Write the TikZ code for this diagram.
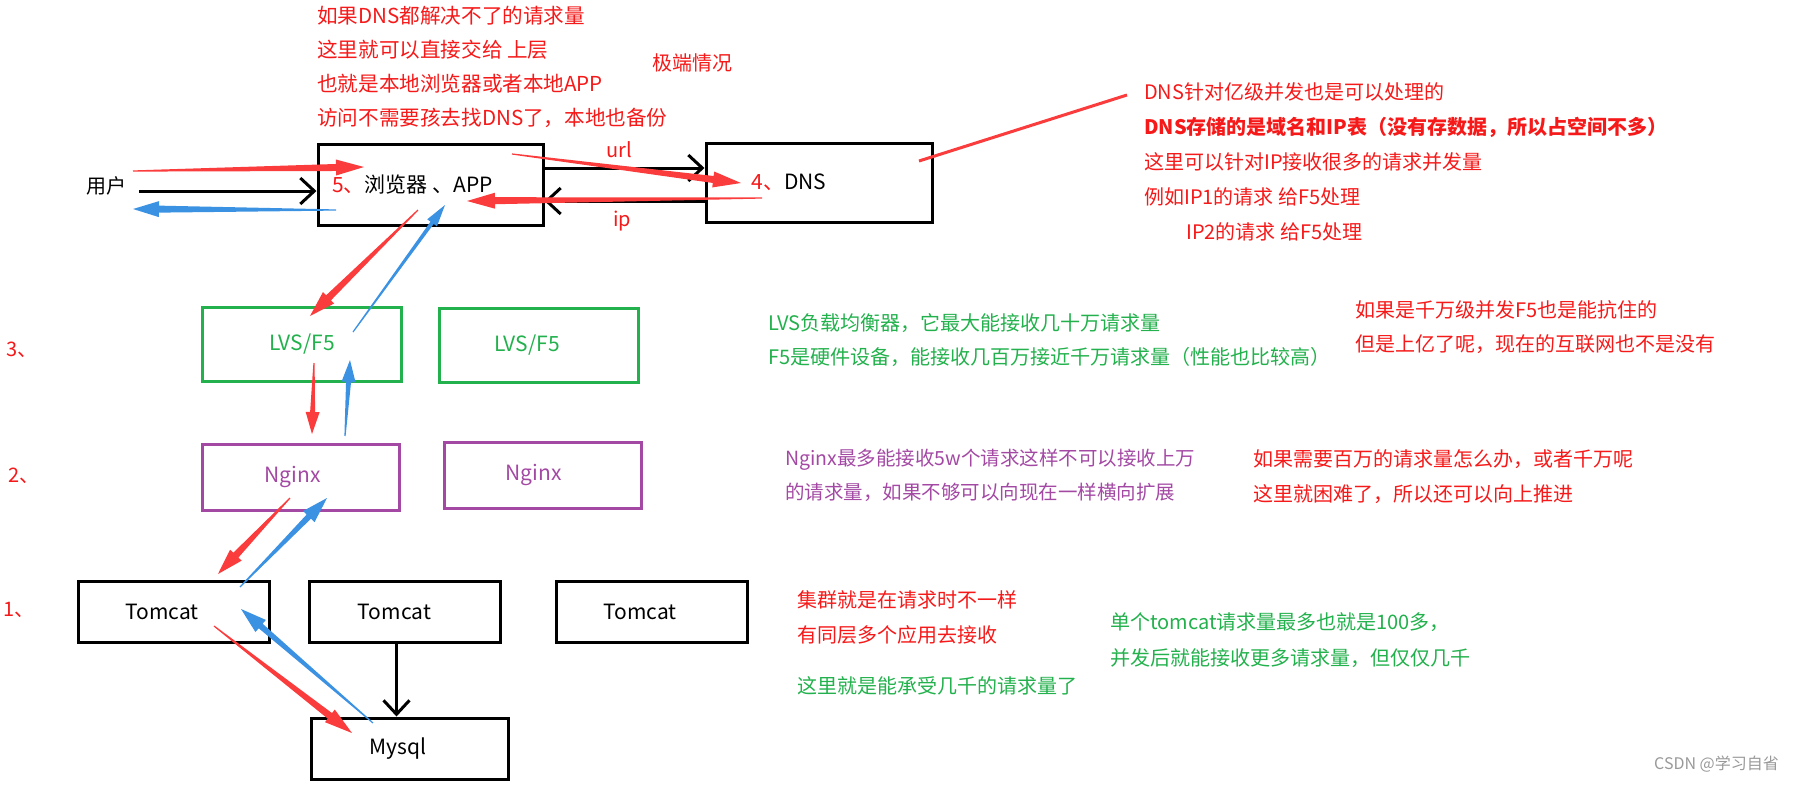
\documentclass[tikz,border=0pt]{standalone}
\usepackage{fontspec}
\setmainfont{Noto Sans CJK SC}
\usetikzlibrary{arrows.meta, calc}

\definecolor{penred}{RGB}{250,60,60}
\definecolor{penblue}{RGB}{60,146,226}
\definecolor{notered}{RGB}{245,25,25}
\definecolor{notegreen}{RGB}{34,177,76}
\definecolor{notepurple}{RGB}{163,73,164}

% tapered pen arrow: colour, from, to, shaft half width, head length, head half width
\newcommand\fatarrow[6]{%
  \coordinate (hb) at ($(#3)!#5pt!(#2)$);
  \fill[#1] ($(#2)!0.6pt!90:(#3)$) -- ($(hb)!#4pt!90:(#3)$) -- ($(hb)!#6pt!90:(#3)$) -- (#3)
    -- ($(hb)!#6pt!-90:(#3)$) -- ($(hb)!#4pt!-90:(#3)$) -- ($(#2)!0.6pt!-90:(#3)$) -- cycle;
}

\begin{document}
\begin{tikzpicture}[x=1pt, y=-1pt,
  box/.style={rectangle, draw=black, line width=3pt, inner sep=0pt, font=\fontsize{21}{24}\selectfont},
  lvsbox/.style={box, draw=notegreen, text=notegreen, minimum width=199, minimum height=74},
  ngxbox/.style={box, draw=notepurple, text=notepurple, minimum width=197, minimum height=66},
  tcbox/.style={box, minimum width=191, minimum height=61},
  note/.style={anchor=north west, align=left, inner sep=0pt, font=\fontsize{20}{34}\selectfont},
  tag/.style={inner sep=0pt, font=\fontsize{20}{24}\selectfont},
  blk/.style={line width=3pt, -{Straight Barb[length=14pt, width=26pt]}}
]
\useasboundingbox (0,0) rectangle (1794,785);

% boxes (text sits a little left of centre, as drawn)
\node (browser) [box, minimum width=225, minimum height=81] at (430.5,184.5) {\hspace*{-36pt}\textcolor{notered}{5、}浏览器 、APP};
\node (dns) [box, minimum width=226, minimum height=79] at (819,182.5) {\hspace*{-60pt}\textcolor{notered}{4、}DNS};
\node (lvs1) [lvsbox] at (302,344) {LVS/F5};
\node (lvs2) [lvsbox] at (539,345) {\hspace*{-24pt}LVS/F5};
\node (ngx1) [ngxbox] at (300.5,477) {\hspace*{-16pt}Nginx};
\node (ngx2) [ngxbox] at (542.5,475) {\hspace*{-18pt}Nginx};
\node (tc1) [tcbox] at (173.5,611.5) {\hspace*{-23pt}Tomcat};
\node (tc2) [tcbox] at (404.5,611.5) {\hspace*{-20pt}Tomcat};
\node (tc3) [tcbox] at (651.5,611.5) {\hspace*{-23pt}Tomcat};
\node (mysql) [box, minimum width=197, minimum height=61] at (409.5,748.5) {\hspace*{-23pt}Mysql};

% small labels
\node (user) [tag] at (106,186) {用户};
\node (url) [tag, text=notered] at (619,150) {url};
\node (ip) [tag, text=notered] at (622,221) {ip};
\node (lv3) [tag, text=notered] at (22,350) {3、};
\node (lv2) [tag, text=notered] at (24,476) {2、};
\node (lv1) [tag, text=notered] at (19,610) {1、};
\node (extreme) [tag, text=notered] at (692,63) {极端情况};

% notes
\node (topnote) [note, text=notered, font=\fontsize{20.6}{34}\selectfont] at (317,6) {如果DNS都解决不了的请求量\\这里就可以直接交给 上层\\也就是本地浏览器或者本地APP\\访问不需要孩去找DNS了，本地也备份};
\node (dnsnote) [note, text=notered, font=\fontsize{20}{35}\selectfont] at (1144,82) {DNS针对亿级并发也是可以处理的\\\textbf{DNS存储的是域名和IP表（没有存数据，所以占空间不多）}\\这里可以针对IP接收很多的请求并发量\\例如IP1的请求 给F5处理\\\hspace*{42pt}IP2的请求 给F5处理};
\node (lvsnote) [note, text=notegreen] at (768,313) {LVS负载均衡器，它最大能接收几十万请求量\\F5是硬件设备，能接收几百万接近千万请求量（性能也比较高）};
\node (bignote) [note, text=notered] at (1355,300) {如果是千万级并发F5也是能抗住的\\但是上亿了呢，现在的互联网也不是没有};
\node (ngxnote) [note, text=notepurple, font=\fontsize{19.5}{34}\selectfont] at (785,449) {Nginx最多能接收5w个请求这样不可以接收上万\\的请求量，如果不够可以向现在一样横向扩展};
\node (hardnote) [note, text=notered, font=\fontsize{20}{35}\selectfont] at (1253,449) {如果需要百万的请求量怎么办，或者千万呢\\这里就困难了，所以还可以向上推进};
\node (clusternote) [note, text=notered, font=\fontsize{20}{35}\selectfont] at (797,590) {集群就是在请求时不一样\\有同层多个应用去接收};
\node (kilonote) [note, text=notegreen] at (797,676) {这里就是能承受几千的请求量了};
\node (tcnote) [note, text=notegreen, font=\fontsize{20}{36}\selectfont] at (1110,612) {单个tomcat请求量最多也就是100多，\\并发后就能接收更多请求量，但仅仅几千};
\node (mark) [anchor=east, inner sep=0pt, text=black!40, font=\fontsize{16}{20}\selectfont] at (1779,764) {CSDN @学习自省};

% black connectors
\coordinate (utail) at (139,191);
\draw[blk] (utail) -- (utail -| browser.west);
\draw[blk] ([yshift=16.5pt]browser.east) -- ([yshift=16.5pt]browser.east -| dns.west);
\draw[blk] ([yshift=-16.5pt]browser.east -| dns.west) -- ([yshift=-16.5pt]browser.east);
\draw[blk] ([xshift=-8pt]tc2.south) -- ([xshift=-8pt]tc2.south |- mysql.north);

% red line to the DNS note
\coordinate (dnsln) at (919,161);
\coordinate (noteln) at (1127,95);
\draw[penred, line width=3pt] (dnsln) -- (noteln);

% pen arrows
\coordinate (r1s) at (133,171); \coordinate (r1e) at (364,167);
\coordinate (b1s) at (336,210); \coordinate (b1e) at (133,209);
\coordinate (r2s) at (512,154); \coordinate (r2e) at (741,183);
\coordinate (r3s) at (762,198); \coordinate (r3e) at (467,201);
\coordinate (r4s) at (418,210); \coordinate (r4e) at (310,316);
\coordinate (b2s) at (353,332); \coordinate (b2e) at (445,205);
\coordinate (r5s) at (314,363); \coordinate (r5e) at (312,434);
\coordinate (b3s) at (345,436); \coordinate (b3e) at (350,360);
\coordinate (r6s) at (290,498); \coordinate (r6e) at (218,574);
\coordinate (b4s) at (240,587); \coordinate (b4e) at (327,498);
\coordinate (r7s) at (214,626); \coordinate (r7e) at (352,733);
\coordinate (b5s) at (373,723); \coordinate (b5e) at (241,609);

\fatarrow{penred}{r1s}{r1e}{3.5}{28}{8}
\fatarrow{penblue}{b1s}{b1e}{3.5}{26}{8}
\fatarrow{penred}{r2s}{r2e}{3.5}{28}{8}
\fatarrow{penred}{r3s}{r3e}{3.5}{28}{8}
\fatarrow{penred}{r4s}{r4e}{3.5}{26}{8}
\fatarrow{penblue}{b2s}{b2e}{2}{22}{6}
\fatarrow{penred}{r5s}{r5e}{2.5}{22}{7}
\fatarrow{penblue}{b3s}{b3e}{2.5}{22}{7}
\fatarrow{penred}{r6s}{r6e}{3.5}{26}{8}
\fatarrow{penblue}{b4s}{b4e}{3}{26}{8}
\fatarrow{penred}{r7s}{r7e}{3.5}{28}{8}
\fatarrow{penblue}{b5s}{b5e}{3}{26}{8}

\end{tikzpicture}
\end{document}
